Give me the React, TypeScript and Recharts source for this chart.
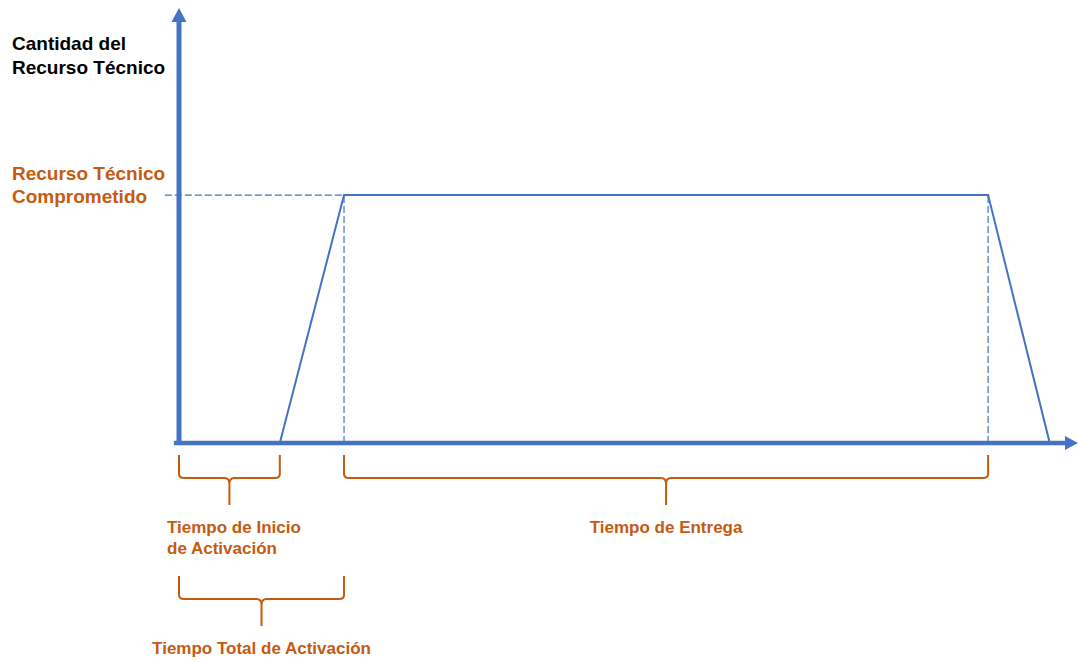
import React from 'react';
import { LineChart, Line, XAxis, YAxis, ReferenceLine } from 'recharts';

// time axis (arbitrary units) and resource level of the profile
const profileTimes = [15.7, 25.7, 126, 135.6];
const profileLevels = [0, 57, 57, 0];
const committedLevel = 57;
const timeMax = 140;
const levelMax = 100;

const yAxisTitle = ['Cantidad del', 'Recurso Técnico'];
const committedLabel = ['Recurso Técnico', 'Comprometido'];

const braceStarts = [0, 25.7, 0];
const braceEnds = [15.7, 126, 25.7];
const braceRows = [0, 0, 1];
const braceLabels = [['Tiempo de Inicio', 'de Activación'], ['Tiempo de Entrega'], ['Tiempo Total de Activación']];

const BLUE = '#4472C4';
const ORANGE = '#C55A11';
const FONT = '"Liberation Sans", Arial, sans-serif';
const DASH = '7 3';

const data = profileTimes.map((t, i) => ({ t, v: profileLevels[i] }));

const YArrow = (props: any) => {
    const { x1, y1, x2, y2 } = props;
    const head = 14;
    return (
        <g>
            <line x1={x1} y1={y1 + 2} x2={x2} y2={y2 + head - 1} stroke={BLUE} strokeWidth={5} />
            <path d={`M${x2} ${y2} L${x2 - 7.5} ${y2 + head} L${x2 + 7.5} ${y2 + head} Z`} fill={BLUE} />
            {yAxisTitle.map((s, i) => (
                <text key={i} x={12} y={y2 + 42 + i * 24} fontFamily={FONT} fontWeight="bold" fontSize={19} fill="#000">
                    {s}
                </text>
            ))}
        </g>
    );
};

const XArrow = (props: any) => {
    const { x1, y1, x2 } = props;
    const head = 13;
    return (
        <g>
            <line x1={x1} y1={y1} x2={x2 - head + 1} y2={y1} stroke={BLUE} strokeWidth={4.5} />
            <path d={`M${x2} ${y1} L${x2 - head} ${y1 - 7} L${x2 - head} ${y1 + 7} Z`} fill={BLUE} />
        </g>
    );
};

const CommittedLine = (props: any) => {
    const { x1, y1, x2, y2 } = props;
    return (
        <g>
            <line x1={x1} y1={y1} x2={x2} y2={y2} stroke={BLUE} strokeWidth={1.2} strokeDasharray={DASH} />
            {committedLabel.map((s, i) => (
                <text key={i} x={12} y={y1 - 15 + i * 23} fontFamily={FONT} fontWeight="bold" fontSize={19} fill={ORANGE}>
                    {s}
                </text>
            ))}
        </g>
    );
};

const makeBrace = (idx: number) => (props: any) => {
    const { x1, x2, y1 } = props;
    const top = y1 + 12 + braceRows[idx] * 121;
    const mid = top + 23;
    const tip = top + 50;
    const xc = (x1 + x2) / 2;
    const d =
        `M${x1} ${top} L${x1} ${mid - 4} Q${x1} ${mid} ${x1 + 5} ${mid} L${xc - 5} ${mid} Q${xc} ${mid} ${xc} ${mid + 6} L${xc} ${tip}` +
        ` M${xc} ${mid + 6} Q${xc} ${mid} ${xc + 5} ${mid} L${x2 - 5} ${mid} Q${x2} ${mid} ${x2} ${mid - 4} L${x2} ${top}`;
    const lines = braceLabels[idx];
    const multi = lines.length > 1;
    return (
        <g>
            <path d={d} fill="none" stroke={ORANGE} strokeWidth={2} />
            {lines.map((s, i) => (
                <text
                    key={i}
                    x={multi ? x1 - 12 : xc}
                    y={tip + 28 + i * 21}
                    textAnchor={multi ? 'start' : 'middle'}
                    fontFamily={FONT}
                    fontWeight="bold"
                    fontSize={17}
                    fill={ORANGE}
                >
                    {s}
                </text>
            ))}
        </g>
    );
};

export default function App() {
    return (
        <div style={{ position: 'absolute', left: 0, top: 0, background: '#fff' }}>
            <LineChart width={1078} height={662} data={data} margin={{ top: 8, right: 0, bottom: 219, left: 179 }}>
                <XAxis type="number" dataKey="t" domain={[0, timeMax]} hide allowDataOverflow />
                <YAxis type="number" domain={[0, levelMax]} hide allowDataOverflow />
                <ReferenceLine
                    segment={[{ x: -2.2, y: committedLevel }, { x: profileTimes[1], y: committedLevel }]}
                    ifOverflow="visible"
                    shape={CommittedLine}
                />
                <ReferenceLine
                    segment={[{ x: profileTimes[1], y: 0 }, { x: profileTimes[1], y: committedLevel }]}
                    ifOverflow="visible"
                    stroke={BLUE}
                    strokeWidth={1.2}
                    strokeDasharray={DASH}
                />
                <ReferenceLine
                    segment={[{ x: profileTimes[2], y: 0 }, { x: profileTimes[2], y: committedLevel }]}
                    ifOverflow="visible"
                    stroke={BLUE}
                    strokeWidth={1.2}
                    strokeDasharray={DASH}
                />
                <ReferenceLine
                    segment={[{ x: -0.8, y: 0 }, { x: timeMax, y: 0 }]}
                    ifOverflow="visible"
                    shape={XArrow}
                />
                <ReferenceLine
                    segment={[{ x: 0, y: 0 }, { x: 0, y: levelMax }]}
                    ifOverflow="visible"
                    shape={YArrow}
                />
                {braceStarts.map((s, i) => (
                    <ReferenceLine
                        key={i}
                        segment={[{ x: s, y: 0 }, { x: braceEnds[i], y: 0 }]}
                        ifOverflow="visible"
                        shape={makeBrace(i)}
                    />
                ))}
                <Line type="linear" dataKey="v" stroke={BLUE} strokeWidth={2} dot={false} isAnimationActive={false} />
            </LineChart>
        </div>
    );
}
